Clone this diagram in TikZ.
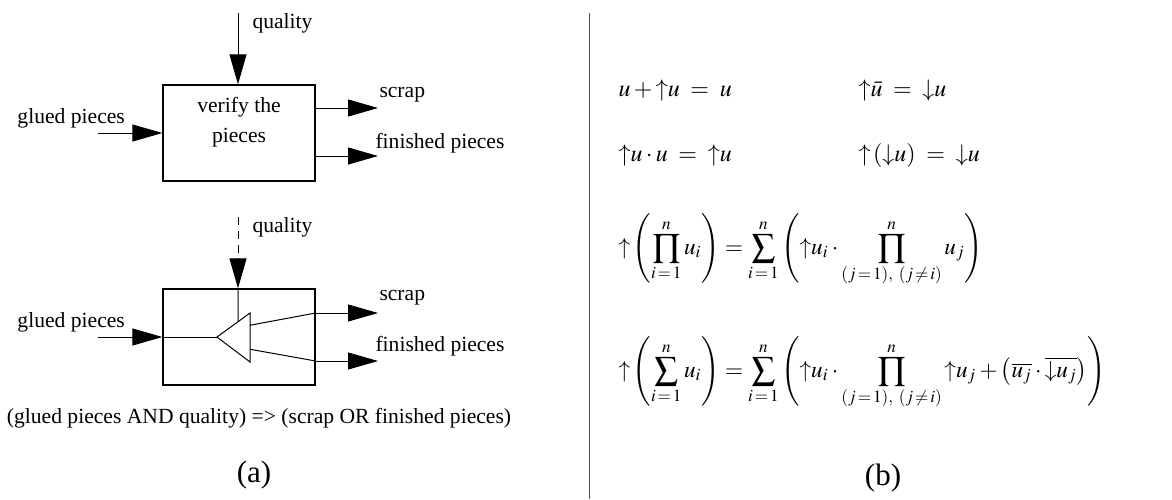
\documentclass[tikz,border=0pt]{standalone}
\usepackage{amsmath}
\usepackage{mathptmx}
\usepackage{fontspec}
\setmainfont{Liberation Serif}
\usetikzlibrary{arrows.meta}

\tikzset{
  procbox/.style={draw, line width=0.65pt, minimum width=76pt, minimum height=48pt, inner sep=0pt},
  flow/.style={line width=0.5pt, -{Triangle[length=15pt,width=8.5pt]}},
  lbl/.style={inner sep=0pt, font=\fontsize{10.8}{15}\selectfont},
  eqn/.style={inner sep=0pt, anchor=west, font=\fontsize{12}{14}\selectfont},
  bigeqn/.style={eqn, font=\fontsize{11.6}{14}\selectfont},
  tag/.style={inner sep=0pt, font=\fontsize{15.5}{18}\selectfont}
}

\begin{document}
\begin{tikzpicture}[x=0.5pt, y=-0.5pt, line width=0.5pt]
        \useasboundingbox (0,0) rectangle (1172,499);

        % Upper block
        \node[procbox] (verify) at (239,133) {};
        \node[lbl, align=center] (verifytxt) at (239,122) {verify the\\pieces};
        \coordinate (qtop) at (238,13);
        \coordinate (gluedstart) at (98,133);
        \coordinate (scrapend) at (378,108);
        \coordinate (finishend) at (378,156);
        \draw[flow] (qtop) -- (qtop |- verify.north);
        \draw[flow] (gluedstart) -- (verify.west);
        \draw[flow] (verify.east |- scrapend) -- (scrapend);
        \draw[flow] (verify.east |- finishend) -- (finishend);
        \node[lbl, anchor=west] (qlbl) at (252,23) {quality};
        \node[lbl, anchor=west] (gluedlbl) at (17,118) {glued pieces};
        \node[lbl, anchor=west] (scraplbl) at (379,95) {scrap};
        \node[lbl, anchor=west] (finishlbl) at (375,143) {finished pieces};

        % Lower block with the switch
        \node[procbox] (check) at (239,337) {};
        \coordinate (qtopb) at (238,217);
        \coordinate (qmidb) at (238,258);
        \coordinate (gluedstartb) at (98,337);
        \coordinate (scrapendb) at (378,313);
        \coordinate (finishendb) at (378,361);
        \coordinate (amptip) at (217,337);
        \coordinate (amphi) at (250,313);
        \coordinate (amplo) at (250,362);
        \draw (amptip) -- (amphi) -- (amplo) -- cycle;
        \path (amptip) -- (amphi) coordinate[pos=0.64] (ampjoin);
        \path (amphi) -- (amplo) coordinate[pos=0.25] (ampout1) coordinate[pos=0.74] (ampout2);
        \draw[dash pattern=on 4pt off 3pt] (qtopb) -- (qmidb);
        \draw[flow] (qmidb) -- (qmidb |- check.north);
        \draw (qmidb |- check.north) -- (ampjoin);
        \draw[flow] (gluedstartb) -- (check.west);
        \draw (check.west) -- (amptip);
        \draw (ampout1) -- (check.east |- scrapendb);
        \draw (ampout2) -- (check.east |- finishendb);
        \draw[flow] (check.east |- scrapendb) -- (scrapendb);
        \draw[flow] (check.east |- finishendb) -- (finishendb);
        \node[lbl, anchor=west] (qlblb) at (252,227) {quality};
        \node[lbl, anchor=west] (gluedlblb) at (17,322) {glued pieces};
        \node[lbl, anchor=west] (scraplblb) at (379,298) {scrap};
        \node[lbl, anchor=west] (finishlblb) at (375,346) {finished pieces};
        \node[lbl] (rule) at (259,418) {(glued pieces AND quality) => (scrap OR finished pieces)};
        \node[tag] (taga) at (254,475) {(a)};

        % Separator
        \draw[black!70] (589,13) -- (589,499);

        % Equations
        \node[eqn] (eqa) at (618,90) {$u+{\uparrow}u \;=\; u$};
        \node[eqn] (eqb) at (858,90) {${\uparrow}\bar{u} \;=\; {\downarrow}u$};
        \node[eqn] (eqc) at (618,155) {${\uparrow}u\cdot u \;=\; {\uparrow}u$};
        \node[eqn] (eqd) at (858,155) {${\uparrow}\,({\downarrow}u) \;=\; {\downarrow}u$};
        \node[bigeqn] (eqe) at (618,250) {$\displaystyle {\uparrow}\left(\prod_{i\,=\,1}^{n}u_i\right) = \sum_{i\,=\,1}^{n}\left({\uparrow}u_i\cdot\prod_{(j\,=\,1),\ (j\,\neq\,i)}^{n}u_j\right)$};
        \node[bigeqn] (eqf) at (618,373) {$\displaystyle {\uparrow}\left(\sum_{i\,=\,1}^{n}u_i\right) = \sum_{i\,=\,1}^{n}\left({\uparrow}u_i\cdot\prod_{(j\,=\,1),\ (j\,\neq\,i)}^{n}{\uparrow}u_j+\left(\overline{u_j}\cdot\overline{{\downarrow}u_j}\right)\right)$};
        \node[tag] (tagb) at (883,478) {(b)};

\end{tikzpicture}
\end{document}
